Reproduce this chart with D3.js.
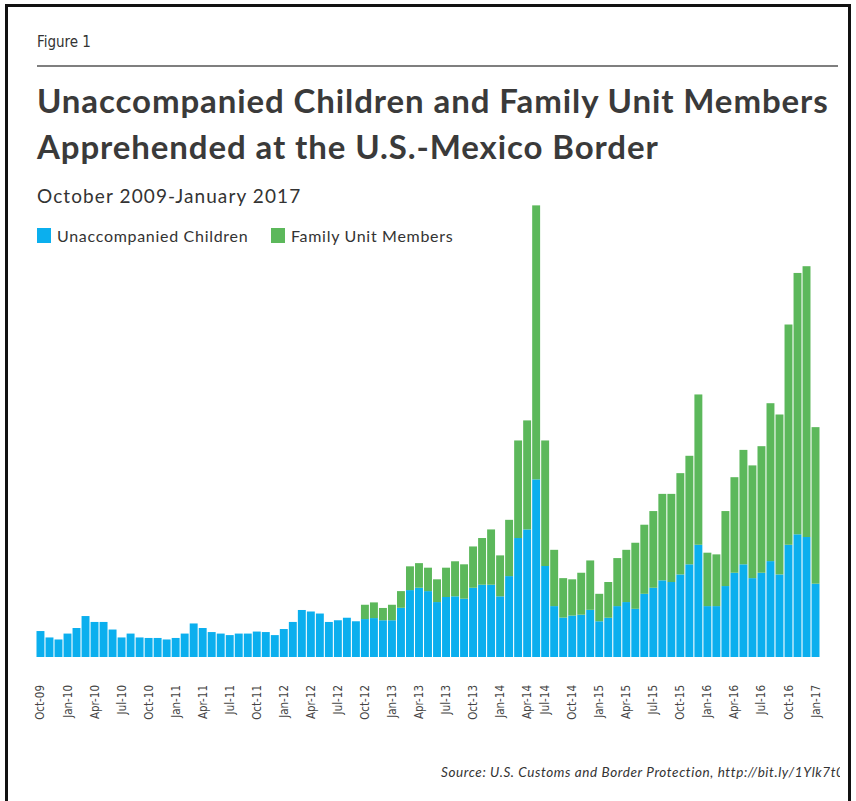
<!DOCTYPE html>
<html>
<head>
<meta charset="utf-8">
<script src="https://cdn.jsdelivr.net/npm/d3@7"></script>
<style>
  body { margin: 0; background: #fff; }
  svg { display: block; }
</style>
</head>
<body>
<div id="chart"></div>
<script>
// Monthly categories as drawn (the chart has no bar for May-14)
const months = [
  "Oct-09","Nov-09","Dec-09",
  "Jan-10","Feb-10","Mar-10","Apr-10","May-10","Jun-10","Jul-10","Aug-10","Sep-10","Oct-10","Nov-10","Dec-10",
  "Jan-11","Feb-11","Mar-11","Apr-11","May-11","Jun-11","Jul-11","Aug-11","Sep-11","Oct-11","Nov-11","Dec-11",
  "Jan-12","Feb-12","Mar-12","Apr-12","May-12","Jun-12","Jul-12","Aug-12","Sep-12","Oct-12","Nov-12","Dec-12",
  "Jan-13","Feb-13","Mar-13","Apr-13","May-13","Jun-13","Jul-13","Aug-13","Sep-13","Oct-13","Nov-13","Dec-13",
  "Jan-14","Feb-14","Mar-14","Apr-14","Jun-14","Jul-14","Aug-14","Sep-14","Oct-14","Nov-14","Dec-14",
  "Jan-15","Feb-15","Mar-15","Apr-15","May-15","Jun-15","Jul-15","Aug-15","Sep-15","Oct-15","Nov-15","Dec-15",
  "Jan-16","Feb-16","Mar-16","Apr-16","May-16","Jun-16","Jul-16","Aug-16","Sep-16","Oct-16","Nov-16","Dec-16",
  "Jan-17"
];

// Unaccompanied children
const children = [
  1540,1160,1040,
  1390,1720,2430,2080,2080,1630,1160,1390,1160,1130,1130,1040,
  1130,1390,1990,1720,1480,1390,1300,1390,1390,1510,1480,1300,
  1660,2080,2790,2700,2580,2080,2180,2330,2120,2250,2310,2180,
  2180,2920,3970,4110,3910,3260,3560,3600,3460,4110,4290,4290,
  3600,4800,7060,7570,10540,5400,3020,2340,2460,2510,2800,
  2120,2330,3020,3260,2860,3750,4110,4550,4450,4900,5500,6660,
  3020,3020,4210,5000,5500,4680,5000,5690,4900,6660,7280,7120,
  4350
];

// Family unit members
const families = [
  0,0,0,
  0,0,0,0,0,0,0,0,0,0,0,0,
  0,0,0,0,0,0,0,0,0,0,0,0,
  0,0,0,0,0,0,0,0,0,850,930,730,
  920,990,1410,1460,1390,1350,1740,2080,2040,2450,2770,3280,
  2430,3340,5790,6470,16260,7450,3340,2340,2150,2490,2930,
  1630,2120,2850,3100,3920,4100,4550,5130,5230,6010,6440,8920,
  3170,3070,4450,5670,6790,6690,7510,9370,9490,13070,15510,16070,
  9290
];

const tickLabels = [
  "Oct-09","Jan-10","Apr-10","Jul-10","Oct-10","Jan-11","Apr-11","Jul-11","Oct-11",
  "Jan-12","Apr-12","Jul-12","Oct-12","Jan-13","Apr-13","Jul-13","Oct-13","Jan-14",
  "Apr-14","Jul-14","Oct-14","Jan-15","Apr-15","Jul-15","Oct-15","Jan-16","Apr-16",
  "Jul-16","Oct-16","Jan-17"
];

const seriesNames = ["Unaccompanied Children", "Family Unit Members"];
const colors = ["#0bafee", "#5cb85b"];

const W = 856, H = 801;
const baseY = 657;

const svg = d3.select("#chart")
  .append("svg")
    .attr("width", W)
    .attr("height", H);

// frame
svg.append("rect")
  .attr("x", 6.5).attr("y", 5.5)
  .attr("width", 843).attr("height", H)
  .attr("fill", "#fff")
  .attr("stroke", "#111")
  .attr("stroke-width", 3);

// Figure label + rule
svg.append("text")
  .attr("x", 37).attr("y", 47)
  .style("font-family", "'Liberation Sans Narrow', 'DejaVu Sans Condensed', sans-serif")
  .style("font-size", "15px")
  .style("fill", "#333")
  .text("Figure 1");

svg.append("line")
  .attr("x1", 37).attr("x2", 838)
  .attr("y1", 66).attr("y2", 66)
  .attr("stroke", "#555")
  .attr("stroke-width", 1.5);

// title
const title = svg.append("text")
  .style("font-family", "Lato, sans-serif")
  .style("font-weight", "bold")
  .style("font-size", "33px")
  .style("letter-spacing", "0.9px")
  .style("fill", "#3a3a3a");
title.append("tspan").attr("x", 37).attr("y", 113)
  .text("Unaccompanied Children and Family Unit Members");
title.append("tspan").attr("x", 37).attr("y", 159)
  .text("Apprehended at the U.S.-Mexico Border");

svg.append("text")
  .attr("x", 37).attr("y", 203)
  .style("font-family", "Lato, sans-serif")
  .style("font-size", "19px")
  .style("letter-spacing", "1.1px")
  .style("fill", "#333")
  .text("October 2009-January 2017");

// legend
const legend = svg.append("g");
const legendX = [37, 271];
seriesNames.forEach((name, i) => {
  legend.append("rect")
    .attr("x", legendX[i]).attr("y", 228)
    .attr("width", 14).attr("height", 15)
    .attr("fill", colors[i]);
  legend.append("text")
    .attr("x", legendX[i] + 20).attr("y", 242)
    .style("font-family", "Lato, sans-serif")
    .style("font-size", "16px")
    .style("letter-spacing", "0.7px")
    .style("fill", "#333")
    .text(name);
});

// scales
const x = d3.scaleBand()
  .domain(months)
  .range([36.5, 819.5])
  .paddingInner(0.12)
  .paddingOuter(0);

const y = d3.scaleLinear()
  .domain([0, 27000])
  .range([baseY, 202]);

const data = months.map((m, i) => ({ month: m, children: children[i], families: families[i] }));
const stacked = d3.stack().keys(["children", "families"])(data);

svg.append("g")
  .selectAll("g")
  .data(stacked)
  .join("g")
    .attr("fill", (d, i) => colors[i])
  .selectAll("rect")
  .data(d => d)
  .join("rect")
    .attr("x", d => x(d.data.month))
    .attr("y", d => y(d[1]))
    .attr("width", x.bandwidth())
    .attr("height", d => y(d[0]) - y(d[1]));

// x axis
const xAxis = svg.append("g")
  .attr("transform", `translate(0,${baseY})`)
  .call(d3.axisBottom(x).tickValues(tickLabels).tickSize(0));
xAxis.select(".domain").remove();
xAxis.selectAll(".tick text")
  .attr("transform", "rotate(-90)")
  .attr("x", -28)
  .attr("y", 0)
  .attr("dy", "0.35em")
  .style("text-anchor", "end")
  .style("font-family", "'DejaVu Sans Condensed', 'DejaVu Sans', sans-serif")
  .style("font-size", "11.5px")
  .style("fill", "#444");

// source
svg.append("defs").append("clipPath").attr("id", "srcClip")
  .append("rect").attr("x", 0).attr("y", 740).attr("width", 840).attr("height", 60);
svg.append("text")
  .attr("x", 441).attr("y", 777)
  .attr("clip-path", "url(#srcClip)")
  .style("font-family", "Lato, sans-serif")
  .style("font-style", "italic")
  .style("font-size", "13.5px")
  .style("letter-spacing", "0.6px")
  .style("fill", "#333")
  .text("Source: U.S. Customs and Border Protection, http://bit.ly/1Ylk7t0");
</script>
</body>
</html>
